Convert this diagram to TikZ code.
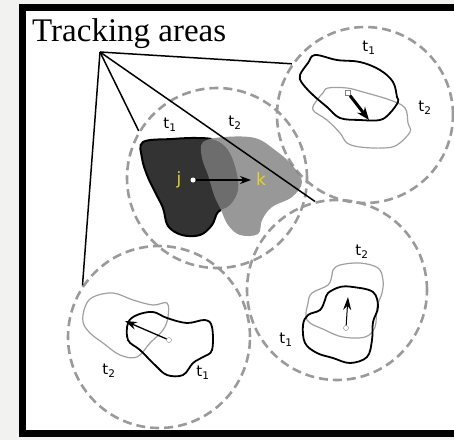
\documentclass[tikz,border=0pt]{standalone}
\usepackage{fontspec}
\setmainfont{Liberation Serif}
\newfontfamily\lblfont{DejaVu Sans}
\usetikzlibrary{arrows.meta}
\definecolor{pagegray}{HTML}{F2F2F0}
\definecolor{areagray}{HTML}{9A9A9A}
\definecolor{blobgray}{HTML}{A0A0A0}
\definecolor{darkblob}{HTML}{333333}
\definecolor{lightblob}{HTML}{7D7D7D}
\definecolor{marker}{HTML}{E0D23A}

\begin{document}
\begin{tikzpicture}[x=1pt, y=-1pt,
	area/.style={circle, draw=areagray, dash pattern=on 9pt off 5pt, line width=2.6pt, minimum size=#1, inner sep=0pt},
	oldblob/.style={draw=black, line width=1.8pt},
	newblob/.style={draw=blobgray, line width=1.2pt},
	tlabel/.style={font=\lblfont\fontsize{15}{15}\selectfont, inner sep=0pt},
	pin/.style={line width=1pt},
	startdot/.style={circle, draw=gray, fill=white, inner sep=0pt, minimum size=5pt}]
	\useasboundingbox (0,0) rectangle (454,440);
	\clip (0,0) rectangle (454,440);
	\fill[pagegray] (0,0) rectangle (454,440);
	\draw[line width=7pt, fill=white] (22.5,7.5) rectangle (475,433.5);

	\node (title) [anchor=base west, inner sep=0pt, font=\fontsize{33}{33}\selectfont] at (32,41) {Tracking areas};
	\coordinate (apex) at (100,52);

	\node (areaTR) [area=176pt] at (365,115) {};
	\node (areaBR) [area=180pt] at (337,290) {};
	\node (areaBL) [area=182pt] at (159,337) {};
	\node (areaM) [area=180pt] at (217,178) {};

	% middle area
	\fill[darkblob] plot[smooth cycle, tension=0.6] coordinates {(143,142) (172,139) (197,138) (215,140) (228,150) (236,170) (238,190) (230,205) (218,212) (212,225) (200,235) (182,235) (168,226) (163,208) (155,192) (147,175) (142,158)};
	\begin{scope}[even odd rule]
		\clip (0,0) rectangle (454,440) plot[smooth cycle, tension=0.6] coordinates {(203,142) (225,137) (255,138) (275,150) (292,165) (302,182) (292,197) (272,207) (262,220) (258,234) (240,235) (228,225) (221,210) (214,195) (208,175) (202,158)};
		\draw[line width=2pt] plot[smooth cycle, tension=0.6] coordinates {(143,142) (172,139) (197,138) (215,140) (228,150) (236,170) (238,190) (230,205) (218,212) (212,225) (200,235) (182,235) (168,226) (163,208) (155,192) (147,175) (142,158)};
	\end{scope}
	\fill[lightblob, fill opacity=0.79] plot[smooth cycle, tension=0.6] coordinates {(203,142) (225,137) (255,138) (275,150) (292,165) (302,182) (292,197) (272,207) (262,220) (258,234) (240,235) (228,225) (221,210) (214,195) (208,175) (202,158)};
	\node (mT1) [tlabel] at (170,125) {t\textsubscript{1}};
	\node (mT2) [tlabel] at (235,123) {t\textsubscript{2}};
	\node (jlbl) [tlabel, text=marker, font=\lblfont\fontsize{17}{17}\selectfont] at (179,180) {j};
	\node (klbl) [tlabel, text=marker, font=\lblfont\fontsize{17}{17}\selectfont] at (261,179) {k};
	\node (jdot) [circle, fill=white, inner sep=0pt, minimum size=5pt] at (193,180) {};
	\coordinate (ktip) at (251,180);
	\draw[-{Stealth[length=11pt, width=8pt]}, line width=1.4pt] (jdot) -- (ktip);

	% top right area
	\draw[newblob] plot[smooth cycle, tension=0.6] coordinates {(328,88) (347,88) (363,92) (390,100) (405,108) (408,123) (410,132) (397,145) (383,148) (360,147) (347,143) (340,133) (327,120) (313,110) (317,100) (323,93)};
	\draw[oldblob] plot[smooth cycle, tension=0.6] coordinates {(315,55) (337,60) (360,62) (380,70) (393,82) (397,97) (398,102) (390,113) (380,120) (360,120) (340,118) (327,107) (313,95) (302,83) (300,75) (308,63)};
	\node (trT1) [tlabel] at (369,48) {t\textsubscript{1}};
	\node (trT2) [tlabel] at (425,108) {t\textsubscript{2}};
	\node (trStart) [draw=gray, fill=white, inner sep=0pt, minimum size=5pt] at (348,93) {};
	\coordinate (trTip) at (369,120);
	\draw[-{Stealth[length=13pt, width=10pt]}, line width=3pt] (trStart) -- (trTip);

	% bottom right area
	\draw[newblob] plot[smooth cycle, tension=0.6] coordinates {(333,270) (340,265) (360,263) (378,268) (383,280) (382,293) (377,307) (375,327) (365,337) (343,337) (325,330) (307,320) (308,303) (312,293) (328,285) (332,275)};
	\draw[oldblob] plot[smooth cycle, tension=0.6] coordinates {(328,293) (340,287) (353,287) (373,292) (378,307) (373,322) (372,340) (367,357) (350,363) (333,358) (317,353) (305,343) (303,325) (308,315) (320,310) (325,300)};
	\node (brT2) [tlabel] at (362,252) {t\textsubscript{2}};
	\node (brT1) [tlabel] at (286,340) {t\textsubscript{1}};
	\node (brStart) [startdot] at (346,328) {};
	\coordinate (brTip) at (348,297);
	\draw[-{Stealth[length=13pt, width=8pt]}, pin] (brStart) -- (brTip);

	% bottom left area
	\draw[newblob] plot[smooth cycle, tension=0.6] coordinates {(85,307) (93,297) (113,293) (133,300) (153,305) (167,303) (168,317) (163,330) (150,343) (137,357) (120,355) (103,343) (90,333) (83,322)};
	\draw[oldblob] plot[smooth cycle, tension=0.6] coordinates {(128,323) (137,315) (153,312) (167,318) (187,323) (205,320) (212,327) (212,350) (203,357) (193,363) (183,375) (167,375) (155,365) (140,350) (128,340)};
	\node (blT2) [tlabel] at (109,371) {t\textsubscript{2}};
	\node (blT1) [tlabel] at (203,373) {t\textsubscript{1}};
	\node (blStart) [startdot] at (169,340) {};
	\coordinate (blTip) at (125,321);
	\draw[-{Stealth[length=12pt, width=8pt]}, line width=1.3pt] (blStart) -- (blTip);

	% pointers from the title
	\draw[line width=1.5pt] (apex) -- (areaTR.145);
	\draw[line width=1.5pt] (apex) -- (areaBR.104);
	\draw[line width=1.5pt] (apex) -- (areaM.149);
	\draw[line width=1.5pt] (apex) -- (areaBL.146);
\end{tikzpicture}
\end{document}
